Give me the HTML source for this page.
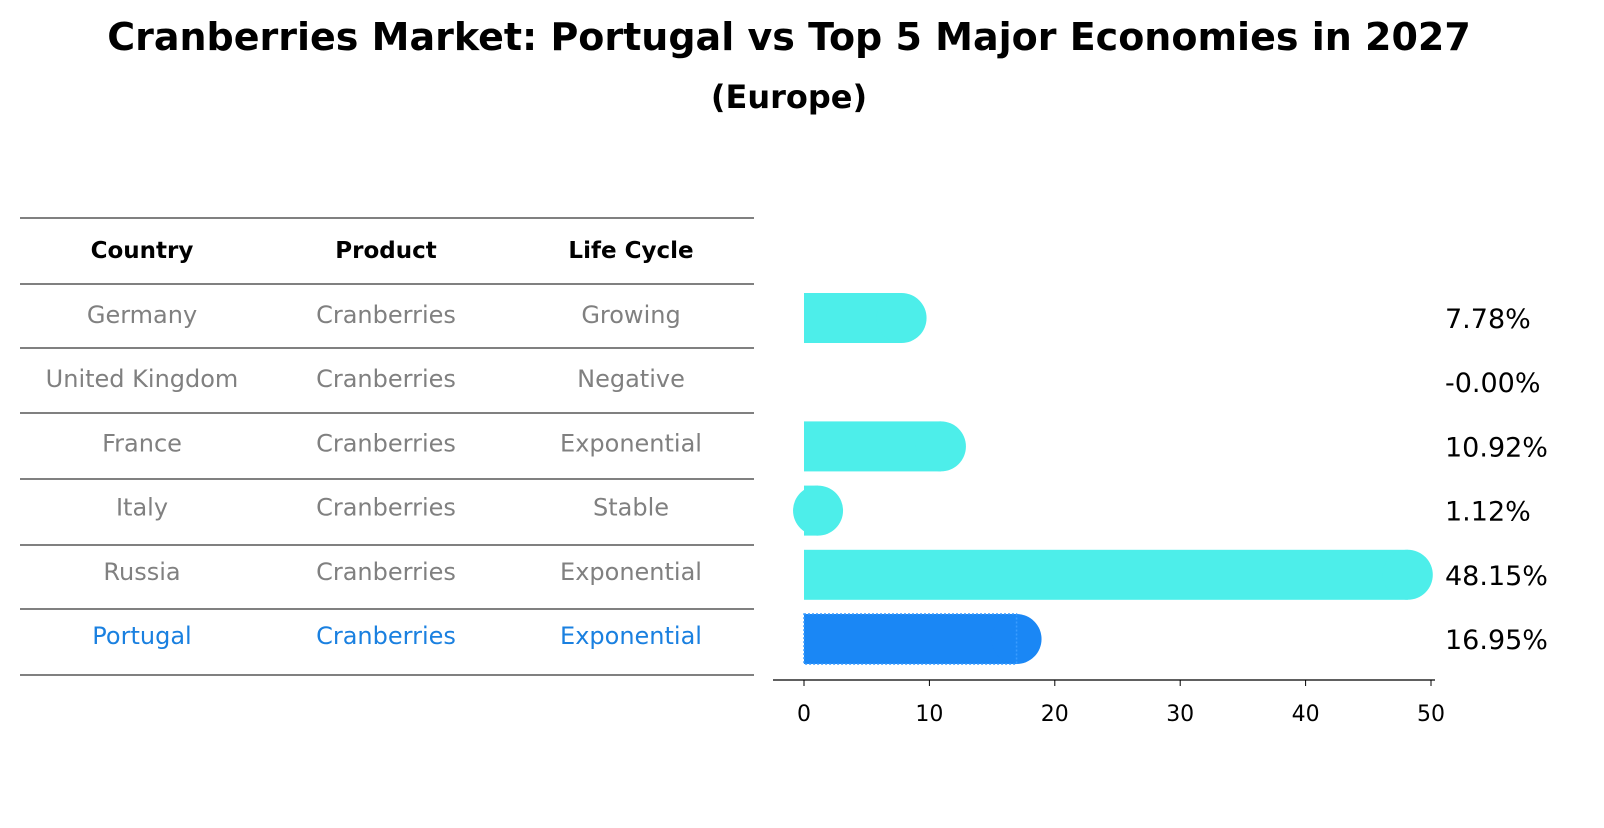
<!DOCTYPE html>
<html><head><meta charset="utf-8"><style>
body{margin:0;background:#fff;font-family:"Liberation Sans","DejaVu Sans",sans-serif}
svg text{font-family:"DejaVu Sans","Liberation Sans",sans-serif}
</style></head><body>
<svg width="1604" height="823" xmlns="http://www.w3.org/2000/svg" id="chart">
<text x="789" y="50" text-anchor="middle" font-size="38" font-weight="bold">Cranberries Market: Portugal vs Top 5 Major Economies in 2027</text>
<text x="789" y="108" text-anchor="middle" font-size="32" font-weight="bold">(Europe)</text>
<g id="table"></g>
<g id="bars"></g>
<g id="axis"></g>
</svg>
<script>
const countries=["Germany","United Kingdom","France","Italy","Russia","Portugal"];
const products=["Cranberries","Cranberries","Cranberries","Cranberries","Cranberries","Cranberries"];
const lifeCycles=["Growing","Negative","Exponential","Stable","Exponential","Exponential"];
const values=[7.78,-0.00,10.92,1.12,48.15,16.95];
const valueLabels=["7.78%","-0.00%","10.92%","1.12%","48.15%","16.95%"];
const ticks=[0,10,20,30,40,50];
const NS="http://www.w3.org/2000/svg";
function mk(tag,attrs,parent,text){const e=document.createElementNS(NS,tag);for(const k in attrs)e.setAttribute(k,attrs[k]);if(text!==undefined)e.textContent=text;parent.appendChild(e);return e;}
const xs=v=>804+v*(1431-804)/50;
const rowY=i=>316+i*64.2;
const table=document.getElementById('table');
const lines=[218,284,348,413,479,545,609,675];
lines.forEach((y,i)=>{const l=mk('line',{x1:20,x2:754,y1:y,y2:y,stroke:'#000','stroke-width':1},table);

});
const cols=[142,386,631];
["Country","Product","Life Cycle"].forEach((h,j)=>{const t=mk('text',{x:cols[j],y:258,'text-anchor':'middle','font-size':23,'font-weight':'bold'},table,h);

});
countries.forEach((c,i)=>{const col=i===countries.length-1?'#1a80e0':'#808080';
[c,products[i],lifeCycles[i]].forEach((v,j)=>{const t=mk('text',{x:cols[j],y:rowY(i)+7,'text-anchor':'middle','font-size':24,fill:col},table,v);

});});
const bars=document.getElementById('bars');
values.forEach((v,i)=>{const y=rowY(i)+2;const last=i===values.length-1;const col=last?'#1a87f5':'#4deeea';
if(v>0.001){const g=mk('g',{},bars);


mk('rect',{x:xs(0),y:y-25,width:xs(v)-xs(0),height:50,fill:col},g);
mk('circle',{cx:xs(v),cy:y,r:25,fill:col},g);
if(last){mk('rect',{x:xs(0),y:y-25,width:xs(v)-xs(0),height:50,fill:'none',stroke:'#3a9cff','stroke-width':1.5,'stroke-dasharray':'2,2'},g);}}
const t=mk('text',{x:1445,y:y+10,'font-size':27},bars,valueLabels[i]);

});
const axis=document.getElementById('axis');
mk('line',{x1:773,x2:1435,y1:680,y2:680,stroke:'#000','stroke-width':1.2},axis);
ticks.forEach(v=>{mk('line',{x1:xs(v),x2:xs(v),y1:680,y2:686,stroke:'#000'},axis);
const t=mk('text',{x:xs(v),y:721,'text-anchor':'middle','font-size':22},axis,String(v));

});
</script>
</body></html>
